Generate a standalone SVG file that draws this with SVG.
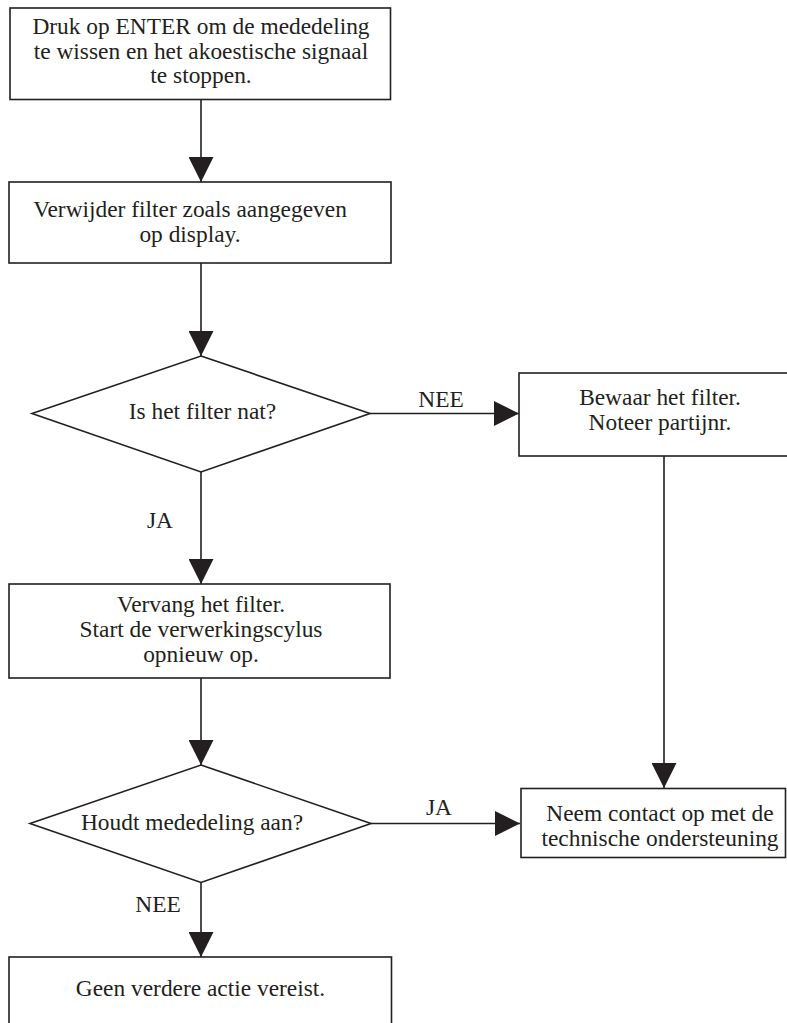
<svg xmlns="http://www.w3.org/2000/svg" width="787" height="1023" viewBox="0 0 787 1023">
<style>
.box{fill:#fff;stroke:#231f20;stroke-width:1.6}
.con{fill:none;stroke:#231f20;stroke-width:1.6}
.t{font-family:'Liberation Serif',serif;font-size:23.4px;fill:#231f20;text-anchor:middle}
</style>
<defs>
<marker id="ah" viewBox="0 0 25 25" refX="25" refY="12.5" markerWidth="25" markerHeight="25" markerUnits="userSpaceOnUse" orient="auto">
<path d="M0,0 L25,12.5 L0,25 Z" fill="#231f20"/>
</marker>
</defs>
<rect width="787" height="1023" fill="#fff"/>
<g id="connectors">
<path class="con" d="M201,99.5 V182" marker-end="url(#ah)"/>
<path class="con" d="M201,263 V356" marker-end="url(#ah)"/>
<path class="con" d="M370,413.5 H519" marker-end="url(#ah)"/>
<path class="con" d="M201,472 V584" marker-end="url(#ah)"/>
<path class="con" d="M664,456 V788" marker-end="url(#ah)"/>
<path class="con" d="M201,678 V765" marker-end="url(#ah)"/>
<path class="con" d="M371,823.5 H520" marker-end="url(#ah)"/>
<path class="con" d="M201,882.5 V957" marker-end="url(#ah)"/>
<g class="t" font-family="Liberation Serif, serif">
<text x="441" y="407">NEE</text>
<text x="160" y="528">JA</text>
<text x="439" y="815">JA</text>
<text x="158" y="912">NEE</text>
</g>
</g>
<g id="n1" class="t" font-family="Liberation Serif, serif">
<rect class="box" x="10" y="8" width="380.5" height="91.5"/>
<text x="201" y="34">Druk op ENTER om de mededeling</text>
<text x="201" y="58.5">te wissen en het akoestische signaal</text>
<text x="201" y="83">te stoppen.</text>
</g>
<g id="n2" class="t" font-family="Liberation Serif, serif">
<rect class="box" x="9" y="182" width="382" height="81"/>
<text x="190" y="217">Verwijder filter zoals aangegeven</text>
<text x="190" y="242">op display.</text>
</g>
<g id="d1" class="t" font-family="Liberation Serif, serif">
<polygon class="box" points="201,356 370,413.5 201,472 32,413.5"/>
<text x="202.5" y="419">Is het filter nat?</text>
</g>
<g id="n3" class="t" font-family="Liberation Serif, serif">
<rect class="box" x="519" y="373" width="290" height="83"/>
<text x="660" y="405">Bewaar het filter.</text>
<text x="660" y="430">Noteer partijnr.</text>
</g>
<g id="n4" class="t" font-family="Liberation Serif, serif">
<rect class="box" x="9" y="584" width="381" height="94"/>
<text x="201" y="612">Vervang het filter.</text>
<text x="201" y="637">Start de verwerkingscylus</text>
<text x="201" y="662">opnieuw op.</text>
</g>
<g id="d2" class="t" font-family="Liberation Serif, serif">
<polygon class="box" points="201,765 371,823.5 201,882.5 30,823.5"/>
<text x="192" y="830">Houdt mededeling aan?</text>
</g>
<g id="n5" class="t" font-family="Liberation Serif, serif">
<rect class="box" x="521" y="788.5" width="264.5" height="69"/>
<text x="660" y="821">Neem contact op met de</text>
<text x="660" y="846">technische ondersteuning</text>
</g>
<g id="n6" class="t" font-family="Liberation Serif, serif">
<rect class="box" x="9" y="957" width="382.5" height="80"/>
<text x="200.5" y="996">Geen verdere actie vereist.</text>
</g>
</svg>
